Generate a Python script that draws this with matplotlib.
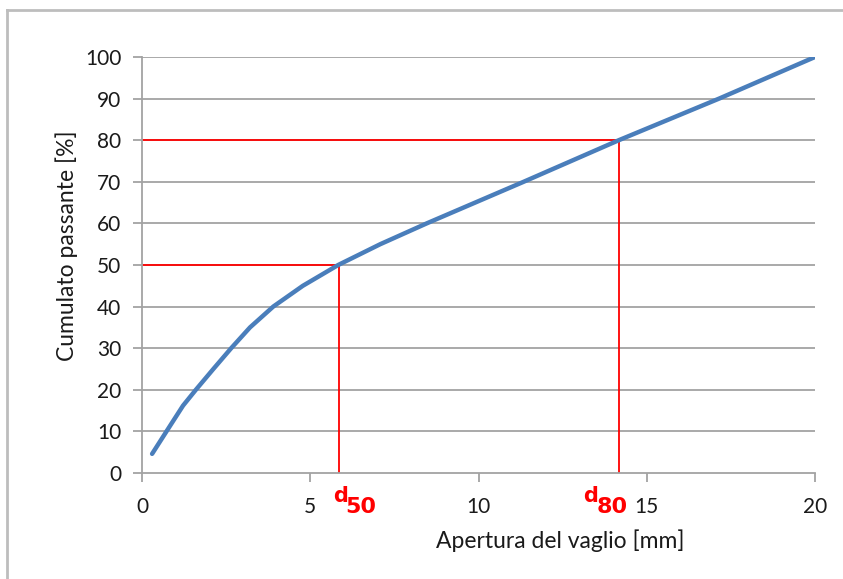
import matplotlib
matplotlib.use("Agg")
import matplotlib.pyplot as plt
from matplotlib.lines import Line2D

# Data
aperture_mm = [0.3, 0.87, 1.22, 1.6, 2.12, 2.65, 3.21, 3.9, 4.78, 5.83, 7.08, 8.46, 11.34, 14.17, 17.15, 20.0]
passing_pct = [4.6, 11.8, 16.2, 20.0, 25.0, 30.0, 35.0, 40.0, 45.0, 50.0, 55.0, 60.0, 70.0, 80.0, 90.0, 100.0]
d50 = 5.86
d80 = 14.17
x_ticks = [0, 5, 10, 15, 20]
y_ticks = [0, 10, 20, 30, 40, 50, 60, 70, 80, 90, 100]

W, H = 843, 579
plt.rcParams['font.family'] = ['Lato', 'DejaVu Sans']
fig = plt.figure(figsize=(W / 100, H / 100), dpi=100)

# outer frame (left and top edges visible)
frame_c = '#bdbdbd'
fig.add_artist(Line2D([7 / W, 7 / W], [0, 1 - 10 / H], transform=fig.transFigure, color=frame_c, linewidth=2))
fig.add_artist(Line2D([7 / W, 1], [1 - 10 / H, 1 - 10 / H], transform=fig.transFigure, color=frame_c, linewidth=2))

ax = fig.add_axes([142 / W, 1 - 473 / H, (815 - 142) / W, (473 - 57) / H])
ax.set_xlim(0, 20)
ax.set_ylim(0, 100)

grid_c = '#a3a3a3'
for yv in y_ticks[1:]:
    ax.axhline(yv, color=grid_c, linewidth=1.3, zorder=1)

red = '#ff0000'
ax.plot([0, d50], [50, 50], color=red, linewidth=1.3, zorder=2)
ax.plot([d50, d50], [0, 50], color=red, linewidth=1.3, zorder=2)
ax.plot([0, d80], [80, 80], color=red, linewidth=1.3, zorder=2)
ax.plot([d80, d80], [0, 80], color=red, linewidth=1.3, zorder=2)

ax.plot(aperture_mm, passing_pct, color='#4a7ebb', linewidth=3.2, solid_capstyle='round',
        solid_joinstyle='round', zorder=3)

for s in ['top', 'right']:
    ax.spines[s].set_visible(False)
for s in ['left', 'bottom']:
    ax.spines[s].set_color(grid_c)
    ax.spines[s].set_linewidth(1.3)

ax.set_xticks(x_ticks)
ax.set_yticks(y_ticks)
ax.tick_params(axis='both', colors=grid_c, labelcolor='#1a1a1a', length=6.5, width=1.3, labelsize=15)
ax.tick_params(axis='y', pad=8.5)
ax.tick_params(axis='x', pad=11)

ax.set_ylabel('Cumulato passante [%]', fontsize=16.5, color='#1a1a1a')
ax.yaxis.set_label_coords(-(142 - 67) / (815 - 142), (473 - 246) / (473 - 57))
ax.set_xlabel('Apertura del vaglio [mm]', fontsize=16.5, color='#1a1a1a')
ax.xaxis.set_label_coords((560 - 142) / (815 - 142), -(541 - 473) / (473 - 57))
ax.xaxis.label.set_va('center')
ax.yaxis.label.set_va('center')

label_specs = [(d50, '50', -6, 6), (d80, '80', -36, -22)]
for dv, sub, dx_d, dx_n in label_specs:
    ax.annotate('d', xy=(dv, 0), xycoords='data', xytext=(dx_d, -13), textcoords='offset pixels',
                ha='left', va='top', color=red, fontsize=15, fontweight='bold',
                family=['DejaVu Sans'], annotation_clip=False)
    ax.annotate(sub, xy=(dv, 0), xycoords='data', xytext=(dx_n, -24), textcoords='offset pixels',
                ha='left', va='top', color=red, fontsize=16, fontweight='bold',
                family=['DejaVu Sans'], annotation_clip=False)

fig.savefig('out.png', dpi=100)
